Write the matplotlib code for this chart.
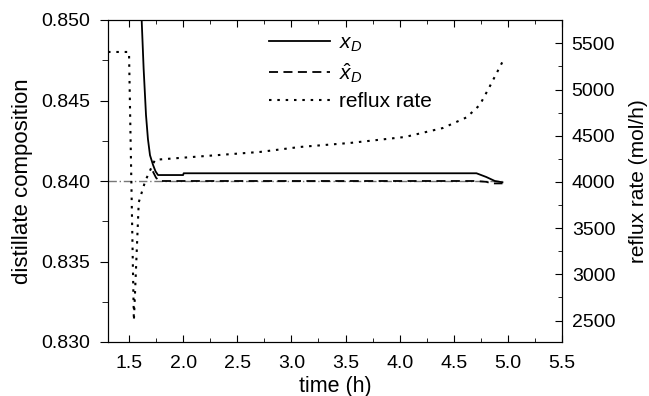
import matplotlib
matplotlib.use("Agg")
import matplotlib.pyplot as plt
from matplotlib.ticker import MultipleLocator, FormatStrFormatter

plt.rcParams['font.family'] = ['Liberation Sans', 'DejaVu Sans']
plt.rcParams['mathtext.fontset'] = 'custom'
plt.rcParams['mathtext.rm'] = 'Liberation Sans'
plt.rcParams['mathtext.it'] = 'Liberation Sans:italic'

# x_D (solid)
t_xd = [1.617, 1.635, 1.657, 1.675, 1.694, 1.722, 1.745, 1.768, 2.0, 2.005, 4.71, 4.80, 4.88, 4.95]
xd = [0.8500, 0.8470, 0.8441, 0.8426, 0.8416, 0.8410, 0.8406, 0.84037, 0.84037, 0.84048, 0.84048, 0.84025, 0.84000, 0.83992]

# x_D estimate (dashed)
t_xh = [1.72, 1.75, 1.78, 4.70, 4.80, 4.85, 4.95]
xh = [0.8406, 0.8402, 0.8400, 0.8400, 0.83995, 0.83985, 0.83985]

# setpoint (grey dash-dot)
t_sp = [1.306, 4.95]
sp = [0.8400, 0.8400]

# reflux rate (dotted, right axis)
t_r = [1.306, 1.50, 1.545, 1.59, 1.65, 1.74, 2.71, 3.08, 3.54, 4.05, 4.40, 4.62, 4.74, 4.83, 4.95]
r = [5407, 5407, 2500, 3780, 4010, 4240, 4325, 4379, 4422, 4487, 4584, 4700, 4833, 5028, 5300]

fig = plt.figure(figsize=(6.49, 3.96), dpi=100)
ax = fig.add_axes([108/649, 1-342/396, (562-108)/649, (342-20)/396])
ax2 = ax.twinx()

ax.plot(t_sp, sp, color='#777777', lw=1.0, ls=(0, (6, 2, 1, 2)))
l1, = ax.plot(t_xd, xd, color='black', lw=1.3, ls='-')
l2, = ax.plot(t_xh, xh, color='black', lw=1.3, ls=(0, (5, 3)))
l3, = ax2.plot(t_r, r, color='black', lw=1.5, ls=(0, (1.2, 2.8)))

ax.set_xlim(1.306, 5.5)
ax.set_ylim(0.830, 0.850)
ax2.set_ylim(2268, 5753)

fs = 14
ax.xaxis.set_major_locator(MultipleLocator(0.5))
ax.xaxis.set_minor_locator(MultipleLocator(0.25))
ax.xaxis.set_major_formatter(FormatStrFormatter('%.1f'))
ax.yaxis.set_major_locator(MultipleLocator(0.005))
ax.yaxis.set_minor_locator(MultipleLocator(0.0025))
ax.yaxis.set_major_formatter(FormatStrFormatter('%.3f'))
ax2.yaxis.set_major_locator(MultipleLocator(500))
ax2.yaxis.set_minor_locator(MultipleLocator(250))

ax.tick_params(axis='x', which='both', direction='in', top=True, labelsize=fs, pad=9)
ax.tick_params(axis='x', which='major', length=5)
ax.tick_params(axis='x', which='minor', length=3)
ax.tick_params(axis='y', which='both', direction='out', labelsize=fs, pad=7)
ax.tick_params(axis='y', which='major', length=6)
ax.tick_params(axis='y', which='minor', length=4)
ax2.tick_params(axis='y', which='both', direction='in', labelsize=fs, pad=7)
ax2.tick_params(axis='y', which='major', length=5)
ax2.tick_params(axis='y', which='minor', length=3)

ax.set_xlabel('time (h)', fontsize=15.5, labelpad=3)
ax.set_ylabel('distillate composition', fontsize=16, labelpad=6)
ax2.set_ylabel('reflux rate (mol/h)', fontsize=15, labelpad=10)

leg = ax.legend([l1, l2, l3], ['$x_D$', r'$\hat{x}_D$', 'reflux rate'],
                loc='upper left', bbox_to_anchor=(0.325, 1.0), frameon=False,
                fontsize=15, handlelength=2.9, handletextpad=0.45, labelspacing=0.35,
                borderaxespad=0.25)

fig.savefig('out.png', dpi=100)
